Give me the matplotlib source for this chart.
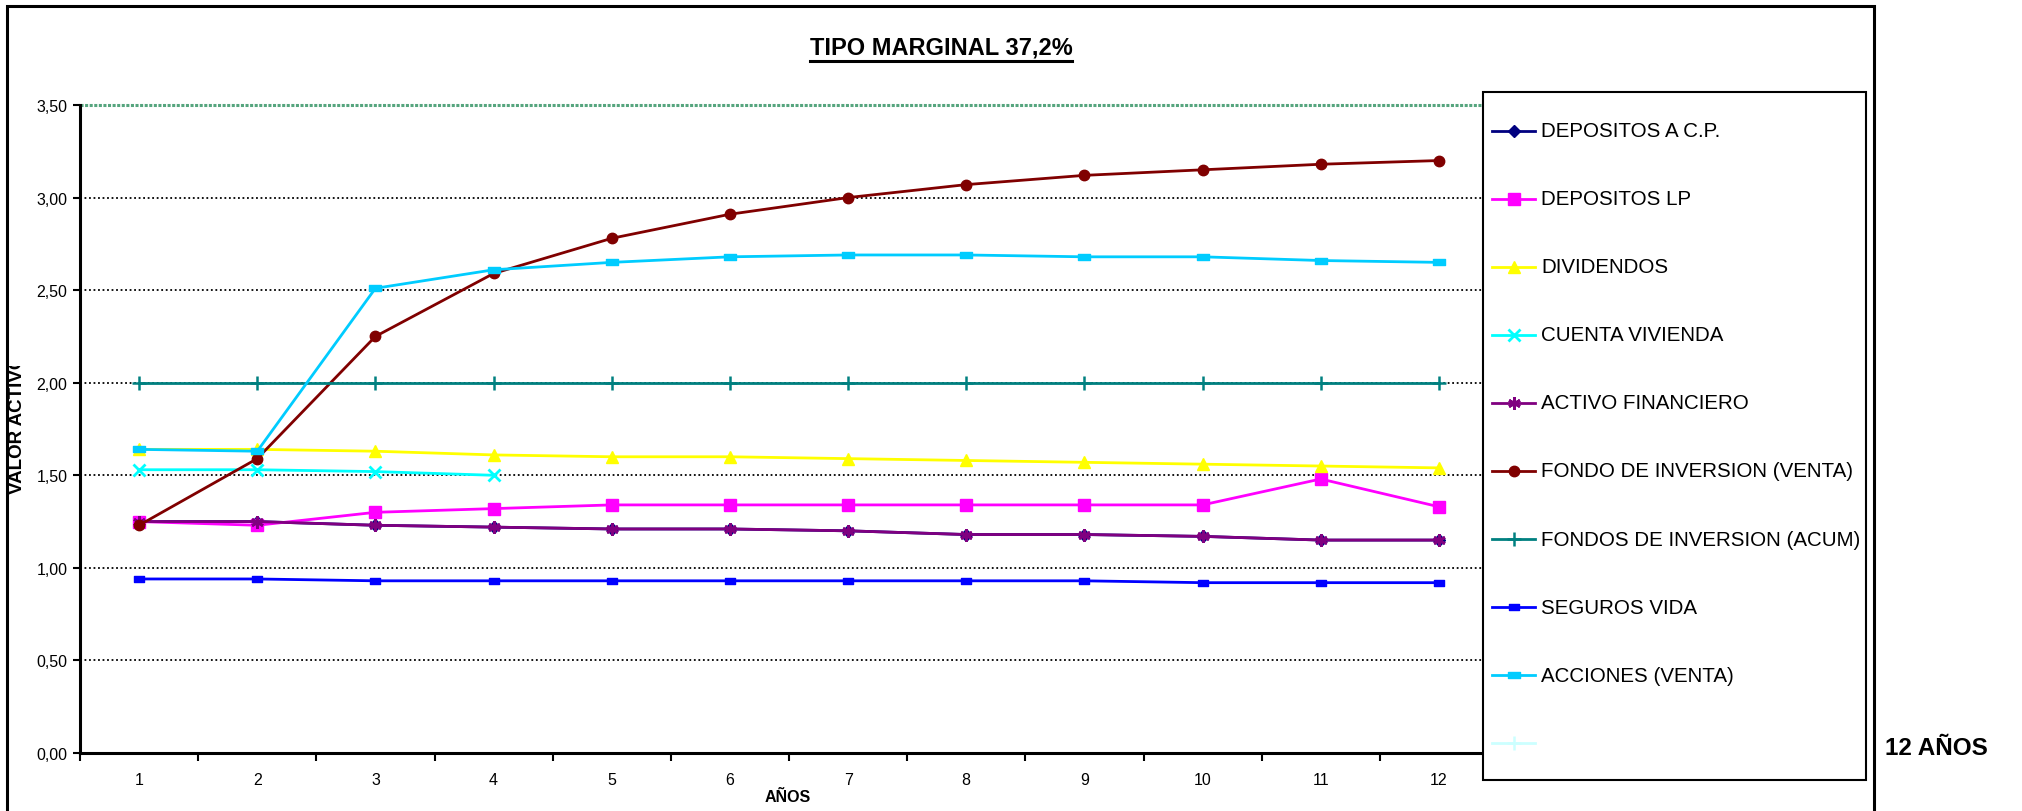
import numpy as np
import matplotlib
matplotlib.use('Agg')
import matplotlib.pyplot as plt
from matplotlib import font_manager
from matplotlib.path import Path
from matplotlib.patches import Rectangle
from matplotlib.lines import Line2D
from matplotlib.transforms import Bbox, TransformedBbox

installed = {f.name for f in font_manager.fontManager.ttflist}
NARROW = 'Liberation Sans Narrow' if 'Liberation Sans Narrow' in installed else 'Liberation Sans'
plt.rcParams['font.family'] = ['Liberation Sans', 'DejaVu Sans']

years = [1, 2, 3, 4, 5, 6, 7, 8, 9, 10, 11, 12]
depositos_cp = [1.25, 1.25, 1.23, 1.22, 1.21, 1.21, 1.20, 1.18, 1.18, 1.17, 1.15, 1.15]
depositos_lp = [1.25, 1.23, 1.30, 1.32, 1.34, 1.34, 1.34, 1.34, 1.34, 1.34, 1.48, 1.33]
dividendos = [1.64, 1.64, 1.63, 1.61, 1.60, 1.60, 1.59, 1.58, 1.57, 1.56, 1.55, 1.54]
cuenta_vivienda = [1.53, 1.53, 1.52, 1.50, None, None, None, None, None, None, None, None]
activo_financiero = [1.25, 1.25, 1.23, 1.22, 1.21, 1.21, 1.20, 1.18, 1.18, 1.17, 1.15, 1.15]
fondo_venta = [1.23, 1.59, 2.25, 2.59, 2.78, 2.91, 3.00, 3.07, 3.12, 3.15, 3.18, 3.20]
fondos_acum = [2.00, 2.00, 2.00, 2.00, 2.00, 2.00, 2.00, 2.00, 2.00, 2.00, 2.00, 2.00]
seguros_vida = [0.94, 0.94, 0.93, 0.93, 0.93, 0.93, 0.93, 0.93, 0.93, 0.92, 0.92, 0.92]
acciones_venta = [1.64, 1.63, 2.51, 2.61, 2.65, 2.68, 2.69, 2.69, 2.68, 2.68, 2.66, 2.65]

labels = ['DEPOSITOS A C.P.', 'DEPOSITOS LP', 'DIVIDENDOS', 'CUENTA VIVIENDA',
          'ACTIVO FINANCIERO', 'FONDO DE INVERSION (VENTA)', 'FONDOS DE INVERSION (ACUM)',
          'SEGUROS VIDA', 'ACCIONES (VENTA)', '']
y_ticks = [0, 0.5, 1.0, 1.5, 2.0, 2.5, 3.0, 3.5]

W, H = 2022, 812
fig = plt.figure(figsize=(W / 100, H / 100), dpi=100)

def fx(px):
    return px / W

def fy(px):
    return 1 - px / H

# outer chart border
fig.add_artist(Rectangle((fx(7), -0.05), fx(1874 - 7), 1.05 - 7 / H,
                         transform=fig.transFigure, fill=False,
                         edgecolor='black', linewidth=2.2))

ax = fig.add_axes([fx(80), fy(754), fx(1498 - 80), (754 - 106) / H])
ax.set_xlim(0.5, 12.5)
ax.set_ylim(0, 3.5)

for v in y_ticks[1:-1]:
    ax.axhline(v, color='black', linestyle=(0, (1, 1.5)), linewidth=1.3, zorder=1)
ax.axhline(3.5, color='#56a57e', linewidth=2.2, linestyle=(0, (1, 0.5)), zorder=1, clip_on=False)

bar = Path([(-1, -0.55), (1, -0.55), (1, 0.55), (-1, 0.55), (-1, -0.55)],
           [Path.MOVETO, Path.LINETO, Path.LINETO, Path.LINETO, Path.CLOSEPOLY])

def arr(v):
    return np.array([np.nan if x is None else x for x in v], dtype=float)

styles = [
    dict(color='#000080', marker='D', ms=6),
    dict(color='#ff00ff', marker='s', ms=9),
    dict(color='#ffff00', marker='^', ms=9),
    dict(color='#00ffff', marker='x', ms=8, mew=2),
    dict(color='#800080', marker=(6, 2, 0), ms=9, mew=2),
    dict(color='#800000', marker='o', ms=7.5),
    dict(color='#008080', marker='+', ms=10, mew=1.8),
    dict(color='#0000ff', marker=bar, ms=7),
    dict(color='#00ccff', marker=bar, ms=9),
    dict(color='#ccffff', marker='+', ms=10, mew=1.8),
]
series = [depositos_cp, depositos_lp, dividendos, cuenta_vivienda, activo_financiero,
          fondo_venta, fondos_acum, seguros_vida, acciones_venta, []]

lw = 2.0
for vals, st in zip(series, styles):
    if len(vals):
        ax.plot(years, arr(vals), lw=lw, **st)

for s in ['top', 'right']:
    ax.spines[s].set_visible(False)
for s in ['left', 'bottom']:
    ax.spines[s].set_linewidth(2.2)
    ax.spines[s].set_zorder(5)

ax.set_yticks(y_ticks)
ax.yaxis.set_major_formatter(plt.FuncFormatter(lambda v, p: ('%.2f' % v).replace('.', ',')))
ax.tick_params(axis='y', direction='out', length=5, width=1.5, labelsize=11.5, pad=4)

ax.set_xticks(years)
ax.set_xticks(np.arange(0.5, 13, 1), minor=True)
ax.tick_params(axis='x', which='major', length=0, pad=14, labelsize=11.5)
ax.tick_params(axis='x', which='minor', direction='out', length=6, width=1.5)
for t in ax.get_xticklabels():
    t.set_family(NARROW)

fig.text(fx(788), fy(798), 'AÑOS', ha='center', va='center',
         fontsize=11.5, fontweight='bold', family=NARROW)

# y label is cut off at the top of its slot
ylab = fig.text(fx(18), fy(494), 'VALOR ACTIVO', ha='center', va='bottom',
                rotation=90, fontsize=13.5, fontweight='bold', family=NARROW)
ylab.set_clip_box(TransformedBbox(Bbox([[0, 0], [0.05, fy(367)]]), fig.transFigure))
ylab.set_clip_on(True)

title = fig.text(fx(941), fy(48), 'TIPO MARGINAL 37,2%', ha='center', va='center',
                 fontsize=17, fontweight='bold', family=NARROW)

fig.text(fx(1885), fy(749), '12 AÑOS', ha='left', va='center',
         fontsize=17.5, fontweight='bold')

# legend box with one row per series
fig.add_artist(Rectangle((fx(1483), fy(781)), fx(1866 - 1483), (781 - 93) / H,
                         transform=fig.transFigure, facecolor='white',
                         edgecolor='black', linewidth=1.5, zorder=5))
for i, (lab, st) in enumerate(zip(labels, styles)):
    yy = fy(131.5 + 68.1 * i)
    st = dict(st)
    color = st.pop('color')
    fig.add_artist(Line2D([fx(1492), fx(1535)], [yy, yy], transform=fig.transFigure,
                          color=color, lw=lw, zorder=6))
    fig.add_artist(Line2D([fx(1513.5)], [yy], transform=fig.transFigure, color=color,
                          linestyle='none', zorder=6, **st))
    fig.text(fx(1541), yy, lab, ha='left', va='center', fontsize=14.8, zorder=6)

# underline the title
fig.canvas.draw()
bb = title.get_window_extent()
fig.add_artist(Line2D([bb.x0 / W, bb.x1 / W], [(bb.y0 - 2) / H, (bb.y0 - 2) / H],
                      transform=fig.transFigure, color='black', linewidth=2.2))

fig.savefig('out.png', dpi=100)
